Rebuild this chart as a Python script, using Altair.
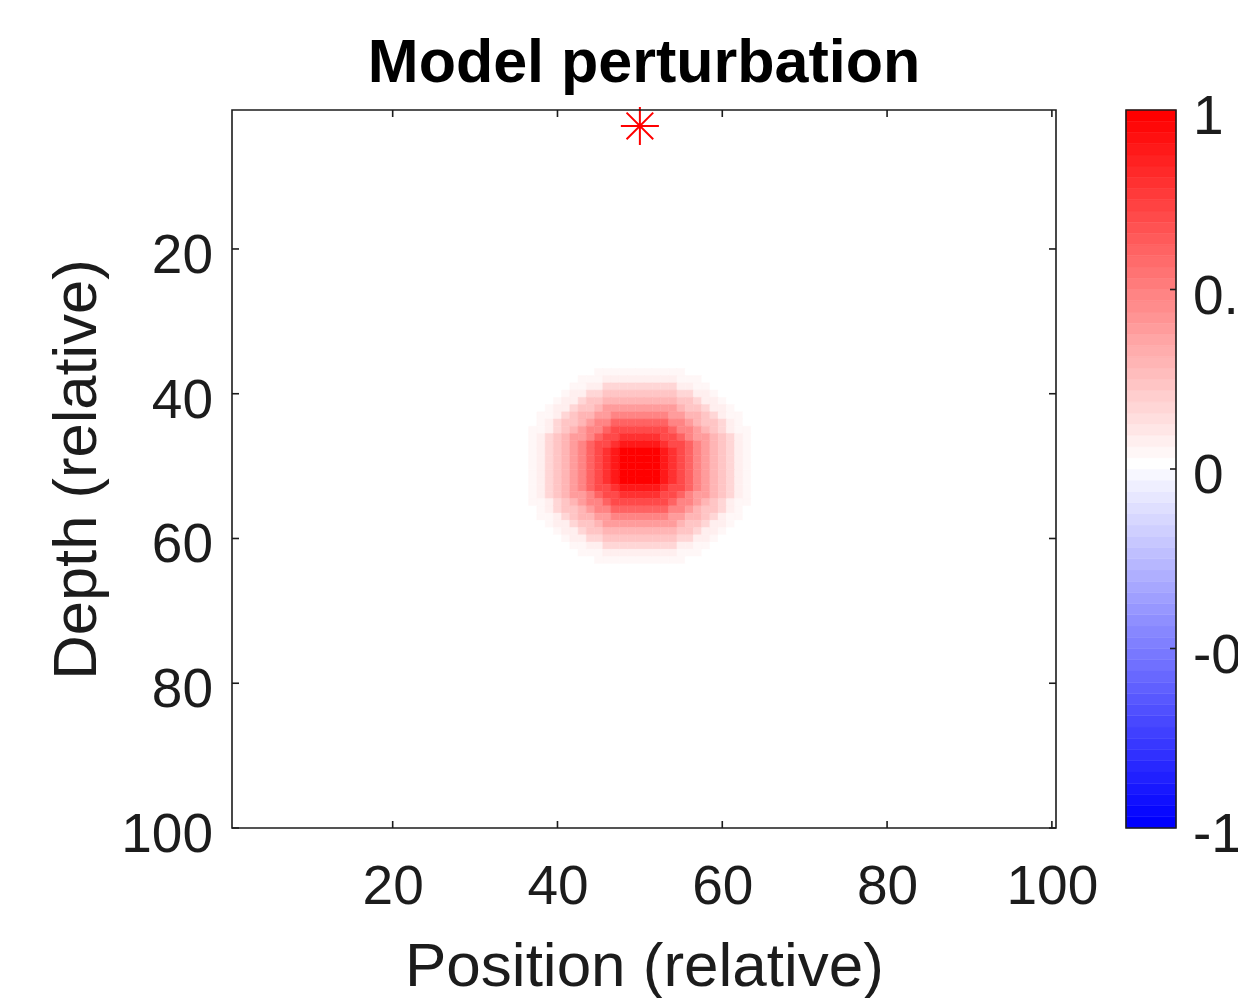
import altair as alt
import numpy as np
import pandas as pd

# ---- model grid -------------------------------------------------------------
n_cols = 100
n_rows = 100
blob_col = 50
blob_row = 50
# perturbation amplitude for each distance ring around the blob centre
# (ring k holds the cells with k <= distance < k + 1; outside the last ring it is 0)
ring_amplitude = [1.00, 1.00, 0.97, 0.90, 0.80, 0.69, 0.60, 0.49,
                  0.40, 0.30, 0.23, 0.16, 0.09, 0.05]

# source position (asterisk)
source_x = [50]
source_y = [3]

# axis ticks
x_ticks = [20, 40, 60, 80, 100]
y_ticks = [20, 40, 60, 80, 100]
cbar_ticks = [-1, -0.5, 0, 0.5, 1]
cbar_inner_ticks = [-0.5, 0, 0.5]

# ---- layout / style ---------------------------------------------------------
W, H = 824, 718
CB_W = 50
FONT = "Liberation Sans"
INK = "#1c1c1c"
TICK_LEN = 7

# blue-white-red colormap, 64 levels
n_levels = 64
half = n_levels // 2
palette = []
for k in range(half):
    c = int(round(255 * k / half))
    palette.append(f"#{c:02x}{c:02x}ff")
for k in range(half):
    c = int(round(255 * (1 - k / (half - 1))))
    palette.append(f"#ff{c:02x}{c:02x}")

cscale = alt.Scale(type="quantize", domain=[-1, 1], range=palette)

# ---- cell table -------------------------------------------------------------
cells = []
for row in range(1, n_rows + 1):
    for col in range(1, n_cols + 1):
        ring = int(np.floor(np.hypot(col - blob_col, row - blob_row)))
        v = ring_amplitude[ring] if ring < len(ring_amplitude) else 0.0
        cells.append({"col": col, "row": row, "v": v})
cells = pd.DataFrame(cells)

xscale = alt.Scale(domain=[0.5, 100.5], nice=False, zero=False)
yscale = alt.Scale(domain=[0.8, 100], nice=False, zero=False, reverse=True)

heat = (
    alt.Chart(cells)
    .transform_calculate(
        x0="datum.col - 0.5", x1="datum.col + 0.5",
        y0="datum.row - 0.5", y1="datum.row + 0.5",
    )
    .mark_rect(clip=True, strokeWidth=0.5)
    .encode(
        x=alt.X(
            "x0:Q", scale=xscale,
            axis=alt.Axis(
                values=x_ticks, tickSize=0, domain=False, grid=False,
                labelFont=FONT, labelFontSize=55, labelColor=INK,
                labelPadding=75, labelBaseline="alphabetic",
                title="Position (relative)", titleFont=FONT, titleFontSize=62,
                titleFontWeight="normal", titleColor=INK,
                titleBaseline="alphabetic", titleX=W / 2, titleY=157,
            ),
        ),
        x2="x1:Q",
        y=alt.Y(
            "y0:Q", scale=yscale,
            axis=alt.Axis(
                values=y_ticks, tickSize=0, domain=False, grid=False,
                labelFont=FONT, labelFontSize=55, labelColor=INK,
                labelPadding=19.5, labelBaseline="middle", labelOffset=6.5,
                title="Depth (relative)", titleFont=FONT, titleFontSize=61.5,
                titleFontWeight="normal", titleColor=INK,
                titleAngle=270, titleAlign="center", titleBaseline="alphabetic",
                titleX=-137, titleY=H / 2,
            ),
        ),
        y2="y1:Q",
        color=alt.Color("v:Q", scale=cscale, legend=None),
        stroke=alt.Stroke("v:Q", scale=cscale, legend=None),
    )
)

# inward tick marks on all four sides
xt = pd.DataFrame({"x0": x_ticks})
yt = pd.DataFrame({"y0": y_ticks})
tick_style = dict(color=INK, strokeWidth=1.6)
x_bottom = alt.Chart(xt).mark_rule(**tick_style).encode(
    x=alt.X("x0:Q", scale=xscale),
    y=alt.value(H - TICK_LEN), y2=alt.value(H))
x_top = alt.Chart(xt).mark_rule(**tick_style).encode(
    x=alt.X("x0:Q", scale=xscale),
    y=alt.value(0), y2=alt.value(TICK_LEN))
y_left = alt.Chart(yt).mark_rule(**tick_style).encode(
    y=alt.Y("y0:Q", scale=yscale),
    x=alt.value(0), x2=alt.value(TICK_LEN))
y_right = alt.Chart(yt).mark_rule(**tick_style).encode(
    y=alt.Y("y0:Q", scale=yscale),
    x=alt.value(W - TICK_LEN), x2=alt.value(W))

# source marker: asterisk
star_path = "M0,-1L0,1M-1,0L1,0M-0.7,-0.7L0.7,0.7M-0.7,0.7L0.7,-0.7"
star = alt.Chart(pd.DataFrame({"x0": source_x, "y0": source_y})).mark_point(
    shape=star_path, size=1450, filled=False, color="#ff0000",
    strokeWidth=2, opacity=1,
).encode(
    x=alt.X("x0:Q", scale=xscale),
    y=alt.Y("y0:Q", scale=yscale),
)

frame_df = pd.DataFrame({"k": [0]})
frame = alt.Chart(frame_df).mark_rect(
    fillOpacity=0, stroke=INK, strokeWidth=1.6
).encode(x=alt.value(0), x2=alt.value(W), y=alt.value(0), y2=alt.value(H))

main = alt.layer(heat, star, x_bottom, x_top, y_left, y_right, frame).properties(
    width=W, height=H,
    title=alt.Title(
        "Model perturbation", font=FONT, fontSize=61, fontWeight="bold",
        color="#000000", anchor="middle", baseline="alphabetic", offset=-40,
    ),
)

# ---- colorbar ---------------------------------------------------------------
step = 2 / n_levels
bins = pd.DataFrame({
    "lo": [-1 + i * step for i in range(n_levels)],
    "hi": [-1 + (i + 1) * step for i in range(n_levels)],
    "v": [-1 + (i + 0.5) * step for i in range(n_levels)],
})
cb_scale = alt.Scale(domain=[-1, 1], nice=False, zero=False)
cb_rects = alt.Chart(bins).mark_rect(strokeWidth=0.5).encode(
    y=alt.Y(
        "lo:Q", scale=cb_scale,
        axis=alt.Axis(
            orient="right", values=cbar_ticks, labelExpr="'' + datum.value",
            tickSize=0, domain=False, grid=False,
            labelFont=FONT, labelFontSize=55, labelColor=INK,
            labelPadding=16.5, labelBaseline="middle", labelOffset=6.5,
            title="",
        ),
    ),
    y2="hi:Q",
    x=alt.value(0), x2=alt.value(CB_W),
    color=alt.Color("v:Q", scale=cscale, legend=None),
    stroke=alt.Stroke("v:Q", scale=cscale, legend=None),
)
cb_ticks = alt.Chart(pd.DataFrame({"lo": cbar_inner_ticks})).mark_rule(
    color=INK, strokeWidth=1.6
).encode(
    y=alt.Y("lo:Q", scale=cb_scale),
    x=alt.value(CB_W - 6), x2=alt.value(CB_W),
)
cb_frame = alt.Chart(frame_df).mark_rect(
    fillOpacity=0, stroke=INK, strokeWidth=1.6
).encode(x=alt.value(0), x2=alt.value(CB_W), y=alt.value(0), y2=alt.value(H))

colorbar = alt.layer(cb_rects, cb_ticks, cb_frame).properties(width=CB_W, height=H)

chart = (
    alt.hconcat(main, colorbar, spacing=70, bounds="flush")
    .configure_view(strokeWidth=0)
    .properties(
        autosize=alt.AutoSizeParams(type="none"),
        padding={"left": 232, "top": 110, "right": 1238 - 232, "bottom": 998 - 110},
    )
)

chart.save("out.html", embed_options={"renderer": "svg", "actions": False})
